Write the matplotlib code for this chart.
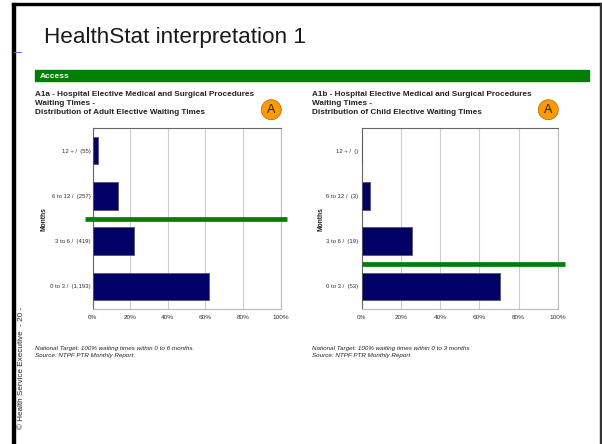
import matplotlib
matplotlib.use('Agg')
from matplotlib import pyplot as plt
from matplotlib.patches import Circle, Rectangle

W, H = 602, 444

months = ['0 to 3 /  (1,193)', '3 to 6 /  (419)', '6 to 12 /  (257)', '12 + /  (55)']
adult_pct = [62, 22, 13.6, 2.8]
months_child = ['0 to 3 /  (53)', '3 to 6 /  (19)', '6 to 12 /  (3)', '12 + /  ()']
child_pct = [70.7, 25.5, 4.2, 0]
pct_ticks = [0, 20, 40, 60, 80, 100]
adult_target_y = 1.5
child_target_y = 0.5

plt.rcParams['font.family'] = ['Liberation Sans', 'DejaVu Sans']

GREEN = '#008000'
NAVY = '#000066'


def add_chart(fig, left, right, labels, values, target_y, target_x, label_pad):
    ax = fig.add_axes([left / W, 1 - 309 / H, (right - left) / W, 181 / H])
    ax.barh(range(len(values)), values, height=0.605, color=NAVY, edgecolor='#555566', linewidth=0.6, zorder=3)
    ax.set_xlim(0, 100)
    ax.set_ylim(-0.5, 3.5)
    ax.set_xticks(pct_ticks)
    ax.set_xticklabels([f'{i}%' for i in pct_ticks], fontsize=4.6, color='#333333')
    ax.set_yticks(range(len(labels)))
    ax.set_yticklabels(labels, fontsize=4.3, color='#333333')
    ax.tick_params(axis='x', length=0, pad=4.2)
    ax.tick_params(axis='y', length=0, pad=label_pad)
    ax.grid(axis='x', color='#cccccc', linewidth=0.8, zorder=0)
    for s in ['top', 'left']:
        ax.spines[s].set_color('#666666')
        ax.spines[s].set_linewidth(0.8)
    for s in ['bottom', 'right']:
        ax.spines[s].set_color('#bbbbbb')
        ax.spines[s].set_linewidth(0.8)
    ax.plot(target_x, [target_y, target_y], color=GREEN, linewidth=3.4, solid_capstyle='butt', clip_on=False, zorder=5)
    return ax


fig = plt.figure(figsize=(W / 100, H / 100), dpi=100)

# slide layer in pixel coordinates
bg = fig.add_axes([0, 0, 1, 1])
bg.set_xlim(0, W)
bg.set_ylim(H, 0)
bg.axis('off')
bg.add_patch(Rectangle((12, 3), 3, H, color='black'))
bg.add_patch(Rectangle((12, 3), 590, 2, color='black'))
bg.add_patch(Rectangle((599.5, 3), 1.2, H, color='#333333'))
bg.plot([14, 21], [52.5, 52.5], color='#6666cc', linewidth=0.7)
bg.add_patch(Rectangle((35, 70), 554, 11.5, color=GREEN))

bg.text(44.5, 37, 'HealthStat interpretation 1', fontsize=16.2, color='#1a1a1a', va='center', ha='left')
bg.text(40, 76.5, 'Access', fontsize=6, color='white', fontweight='bold', va='center')

adult_title = 'A1a - Hospital Elective Medical and Surgical Procedures\nWaiting Times -\nDistribution of Adult Elective Waiting Times'
child_title = 'A1b - Hospital Elective Medical and Surgical Procedures\nWaiting Times -\nDistribution of Child Elective Waiting Times'
bg.text(35, 103.5, adult_title, fontsize=5.9, fontweight='bold', color='#222222', va='center', linespacing=1.47)
bg.text(312.5, 103.5, child_title, fontsize=5.9, fontweight='bold', color='#222222', va='center', linespacing=1.47)

for cx in [271.3, 548.3]:
    bg.add_patch(Circle((cx, 109.7), 10, facecolor='#ff9900', edgecolor='#aa6600', linewidth=0.5))
    bg.text(cx, 110, 'A', fontsize=9, color='#222222', ha='center', va='center')

bg.text(43.5, 219, 'Months', fontsize=4.8, fontweight='bold', rotation=90, ha='center', va='center', color='#222222')
bg.text(321, 219, 'Months', fontsize=4.8, fontweight='bold', rotation=90, ha='center', va='center', color='#222222')
bg.text(21.5, 368, '© Health Service Executive  - 20 -', fontsize=5.9, rotation=90, ha='center', va='center', color='#222222')

adult_note = 'National Target: 100% waiting times within 0 to 6 months.\nSource: NTPF PTR Monthly Report'
child_note = 'National Target: 100% waiting times within 0 to 3 months\nSource: NTPF PTR Monthly Report'
bg.text(35, 352, adult_note, fontsize=4.5, style='italic', color='#222222', va='center', linespacing=1.35)
bg.text(312.5, 352, child_note, fontsize=4.5, style='italic', color='#222222', va='center', linespacing=1.35)

add_chart(fig, 92.5, 280.5, months, adult_pct, adult_target_y, [-4, 103.7], 1.5)
add_chart(fig, 361.7, 557.7, months_child, child_pct, child_target_y, [0, 103.7], 2.8)

fig.savefig('out.png', dpi=100)
